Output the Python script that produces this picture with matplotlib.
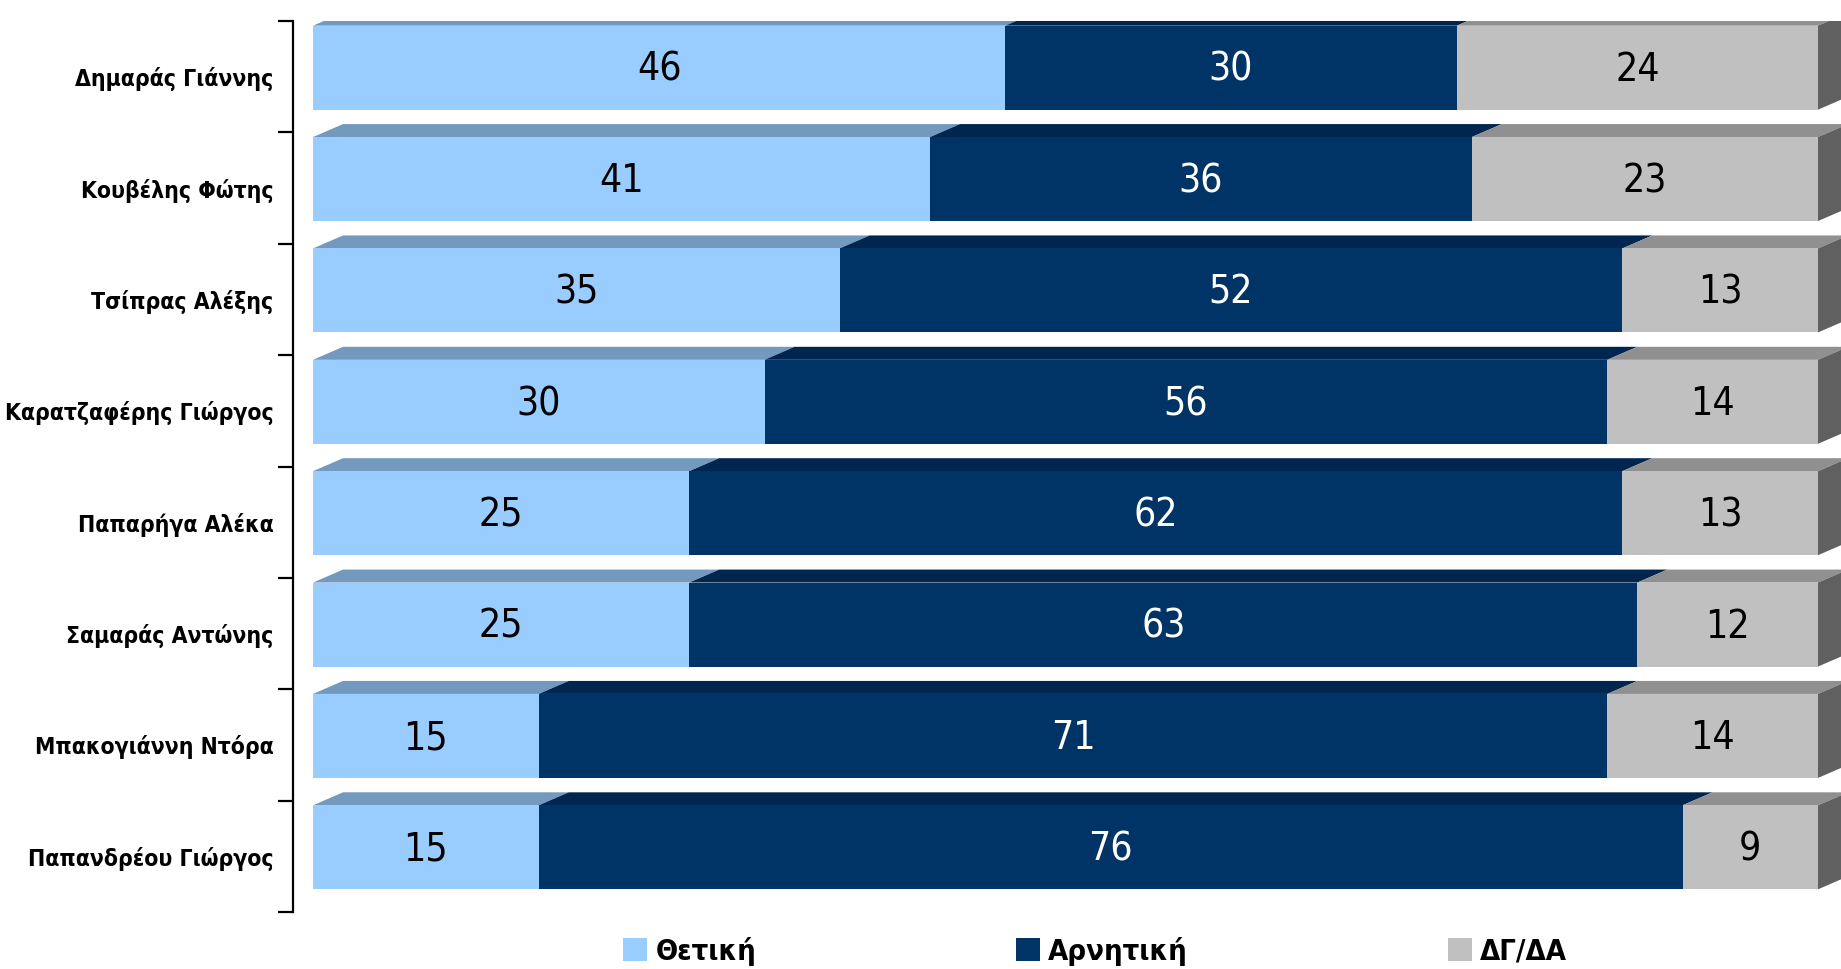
import matplotlib
matplotlib.use("Agg")
import matplotlib.pyplot as plt
from matplotlib.patches import Polygon, Patch
import numpy as np

names = ['Δημαράς Γιάννης', 'Κουβέλης Φώτης', 'Τσίπρας Αλέξης', 'Καρατζαφέρης Γιώργος',
         'Παπαρήγα Αλέκα', 'Σαμαράς Αντώνης', 'Μπακογιάννη Ντόρα', 'Παπανδρέου Γιώργος']
positive = [46, 41, 35, 30, 25, 25, 15, 15]
negative = [30, 36, 52, 56, 62, 63, 71, 76]
dkna = [24, 23, 13, 14, 13, 12, 14, 9]
series_names = ['Θετική', 'Αρνητική', 'ΔΓ/ΔΑ']

front_cols = ['#99CCFF', '#003366', '#C0C0C0']
top_cols = ['#7399BF', '#002650', '#909090']
side_col = '#606060'
text_cols = ['black', 'white', 'black']

W, H = 1841, 969
fig = plt.figure(figsize=(W / 100, H / 100), dpi=100)
ax_left_px, ax_top_px, ax_bot_px = 293, 21, 912
ax = fig.add_axes([ax_left_px / W, 1 - ax_bot_px / H, 1 - ax_left_px / W, (ax_bot_px - ax_top_px) / H])

ppu = (1818 - 313) / 100.0
x0 = -(313 - ax_left_px) / ppu
ax.set_xlim(x0, x0 + (W - ax_left_px) / ppu)
n = len(names)
ax.set_ylim(n - 0.5, -0.5)
cat_px = (ax_bot_px - ax_top_px) / n

bar_h = 84 / cat_px
off = 9 / cat_px
dx = 30 / ppu
dy = 13 / cat_px

series = [positive, negative, dkna]
centers = np.arange(n) - off
left = np.zeros(n)
for s, vals in enumerate(series):
    vals = np.array(vals, dtype=float)
    for i in range(n):
        ytop = centers[i] - bar_h / 2
        a, b = left[i], left[i] + vals[i]
        ax.add_patch(Polygon([(a, ytop), (b, ytop), (b + dx, ytop - dy), (a + dx, ytop - dy)],
                             closed=True, facecolor=top_cols[s], edgecolor='none', lw=0, zorder=2 + s))
    ax.barh(centers, vals, left=left, height=bar_h, color=front_cols[s], lw=0, zorder=2 + s)
    for i in range(n):
        ax.text(left[i] + vals[i] / 2, centers[i] + 0.02, f"{int(vals[i])}", ha='center', va='center',
                color=text_cols[s], fontsize=28, family='DejaVu Sans', fontstretch='condensed',
                zorder=10)
    left = left + vals

for i in range(n):
    ytop = centers[i] - bar_h / 2
    ybot = centers[i] + bar_h / 2
    e = left[i]
    ax.add_patch(Polygon([(e, ytop), (e, ybot), (e + dx, ybot - dy), (e + dx, ytop - dy)],
                         closed=True, facecolor=side_col, edgecolor='none', lw=0, zorder=6))

for sp in ['top', 'right', 'bottom']:
    ax.spines[sp].set_visible(False)
ax.spines['left'].set_linewidth(1.6)
ax.set_xticks([])
ax.set_yticks(np.arange(n))
ax.set_yticklabels(names, fontsize=16.5, fontweight='bold', family='DejaVu Sans',
                   fontstretch='condensed')
ax.tick_params(axis='y', which='major', length=0, pad=14)
ax.set_yticks(np.arange(n + 1) - 0.5, minor=True)
ax.tick_params(axis='y', which='minor', length=11, width=1.6, direction='out')
ax.patch.set_alpha(0)

handles = [Patch(facecolor=c, edgecolor='none') for c in front_cols]
leg = fig.legend(handles, series_names, loc='center', bbox_to_anchor=(1095 / W, 1 - 951 / H),
                 ncol=3, frameon=False, handlelength=0.82, handleheight=0.8, handletextpad=0.3,
                 columnspacing=8.9, borderpad=0, borderaxespad=0,
                 prop={'family': 'DejaVu Sans', 'stretch': 'condensed', 'weight': 'bold', 'size': 21})

fig.savefig('out.png', dpi=100)
